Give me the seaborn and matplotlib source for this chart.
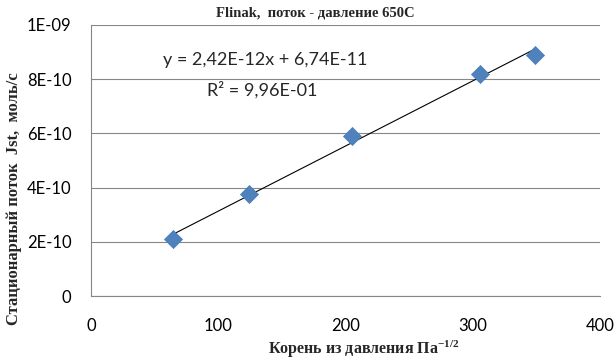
import numpy as np
import pandas as pd
import seaborn as sns
import matplotlib.pyplot as plt

# data
sqrt_p = [64.4, 124.2, 205.1, 305.7, 348.9]
flux = [2.10e-10, 3.76e-10, 5.90e-10, 8.19e-10, 8.89e-10]

x_ticks = [0, 100, 200, 300, 400]
y_ticks = [0, 2e-10, 4e-10, 6e-10, 8e-10, 1e-9]
y_tick_labels = ["0", "2E-10", "4E-10", "6E-10", "8E-10", "1E-09"]

eq_text = "y = 2,42E-12x + 6,74E-11"
r2_text = "R² = 9,96E-01"

df = pd.DataFrame({"x": sqrt_p, "y": flux})

sns.set_style("white")
plt.rcParams['font.family'] = ['Lato', 'DejaVu Sans']
plt.rcParams['mathtext.fontset'] = 'custom'
plt.rcParams['mathtext.rm'] = 'Liberation Serif:bold'
plt.rcParams['mathtext.default'] = 'rm'

fig = plt.figure(figsize=(6.16, 3.62), dpi=100)
ax = fig.add_axes([0.1477, 0.1823, 0.8266, 0.7487])

# trendline (linear fit over the data range)
sns.regplot(data=df, x="x", y="y", ax=ax, ci=None, truncate=True, scatter=False,
            line_kws=dict(color="black", lw=0.8))
sns.scatterplot(data=df, x="x", y="y", ax=ax, marker="D", s=85,
                color="#4F81BD", edgecolor="#4A7EBB", linewidth=0.5, zorder=3)

ax.set_xlim(0, 400)
ax.set_ylim(0, 1e-9)
ax.set_xticks(x_ticks)
ax.set_yticks(y_ticks)
ax.set_yticklabels(y_tick_labels)
ax.tick_params(axis="both", labelsize=12, colors="#868686", labelcolor="black",
               length=6, width=0.8, direction="out")
ax.tick_params(axis="x", pad=10)
ax.tick_params(axis="y", pad=8)

ax.yaxis.grid(True, color="#868686", lw=0.8)
ax.xaxis.grid(False)
for s in ["top", "right"]:
    ax.spines[s].set_visible(False)
for s in ["left", "bottom"]:
    ax.spines[s].set_color("#868686")
    ax.spines[s].set_linewidth(0.8)

ax.set_xlabel("")
ax.set_ylabel("")
serif = ["Liberation Serif", "DejaVu Serif"]
fig.text(0.591, 0.022, "Корень из давления Па$^{-1/2}$", family=serif, fontweight="bold",
         fontsize=11.5, ha="center", va="baseline")
fig.text(0.022, 0.45, "Стационарный поток  Jst,  моль/с", family=serif, fontweight="bold",
         fontsize=12, ha="center", va="center", rotation=90)
fig.text(0.512, 0.963, "Flinak,  поток - давление 650С", family=serif,
         fontweight="bold", fontsize=10.5, ha="center", va="center")

ax.text(0.342, 0.870, eq_text, transform=ax.transAxes, fontsize=13, ha="center", va="center")
ax.text(0.336, 0.760, r2_text, transform=ax.transAxes, fontsize=13, ha="center", va="center")

fig.savefig("out.png", dpi=100)
